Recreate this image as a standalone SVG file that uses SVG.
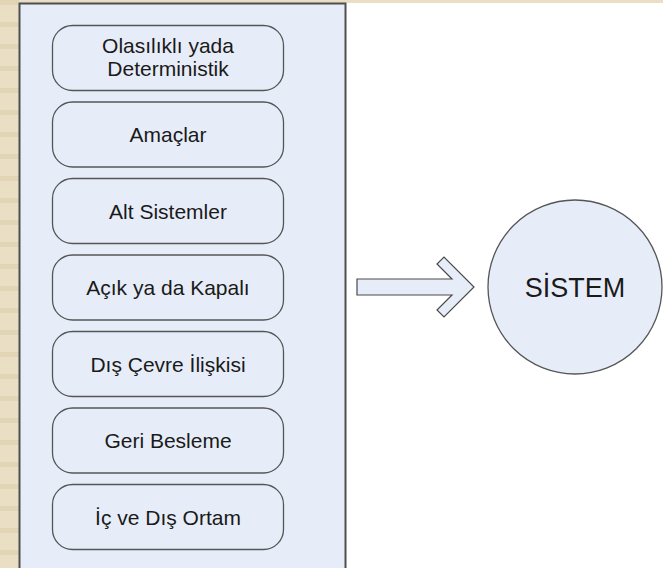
<svg xmlns="http://www.w3.org/2000/svg" width="663" height="568" viewBox="0 0 663 568">
  <defs>
    <pattern id="stripes" x="0" y="0" width="19" height="22" patternUnits="userSpaceOnUse">
      <rect width="19" height="22" fill="#EADFC5"/>
      <rect y="0" width="19" height="5" fill="#E2D5B5"/>
    </pattern>
  </defs>
  <style>
    .panel { fill: #E7EDF8; stroke: #4F4F4F; stroke-width: 2; }
    .box { fill: #E7EDF8; stroke: #555555; stroke-width: 1.3; }
    .lbl { font-family: "Liberation Sans", Arial, sans-serif; font-size: 21px; fill: #1A1A1A; text-anchor: middle; }
    .big { font-size: 27px; }
    .arrow { fill: #E7EDF8; stroke: #4A4A4A; stroke-width: 1.2; stroke-linejoin: miter; }
  </style>

  <!-- page background -->
  <rect width="663" height="568" fill="#FFFFFF"/>
  <rect width="663" height="3" fill="#EADFC5"/>
  <rect width="19" height="568" fill="url(#stripes)"/>

  <!-- container panel -->
  <rect class="panel" x="19.5" y="3.5" width="326" height="580"/>

  <g id="node-olasilikli">
    <rect class="box" x="52.5" y="25.5" width="231" height="65" rx="20"/>
    <text class="lbl" x="168" y="53">Olasılıklı yada</text>
    <text class="lbl" x="168" y="76">Deterministik</text>
  </g>
  <g id="node-amaclar">
    <rect class="box" x="52.5" y="102" width="231" height="65" rx="20"/>
    <text class="lbl" x="168" y="142">Amaçlar</text>
  </g>
  <g id="node-alt-sistemler">
    <rect class="box" x="52.5" y="178.5" width="231" height="65" rx="20"/>
    <text class="lbl" x="168" y="218.5">Alt Sistemler</text>
  </g>
  <g id="node-acik-kapali">
    <rect class="box" x="52.5" y="255" width="231" height="65" rx="20"/>
    <text class="lbl" x="168" y="295">Açık ya da Kapalı</text>
  </g>
  <g id="node-dis-cevre">
    <rect class="box" x="52.5" y="331.5" width="231" height="65" rx="20"/>
    <text class="lbl" x="168" y="371.5">Dış Çevre İlişkisi</text>
  </g>
  <g id="node-geri-besleme">
    <rect class="box" x="52.5" y="408" width="231" height="65" rx="20"/>
    <text class="lbl" x="168" y="448">Geri Besleme</text>
  </g>
  <g id="node-ic-dis-ortam">
    <rect class="box" x="52.5" y="484.5" width="231" height="65" rx="20"/>
    <text class="lbl" x="168" y="524.5">İç ve Dış Ortam</text>
  </g>

  <g id="connectors">
    <path class="arrow" d="M357,279 L452,279 L437,264 L444,257 L474,287 L444,317 L437,310 L452,295 L357,295 Z"/>
  </g>

  <g id="node-sistem">
    <circle class="box" cx="575" cy="287" r="87"/>
    <text class="lbl big" x="575" y="296.5">SİSTEM</text>
  </g>
</svg>
